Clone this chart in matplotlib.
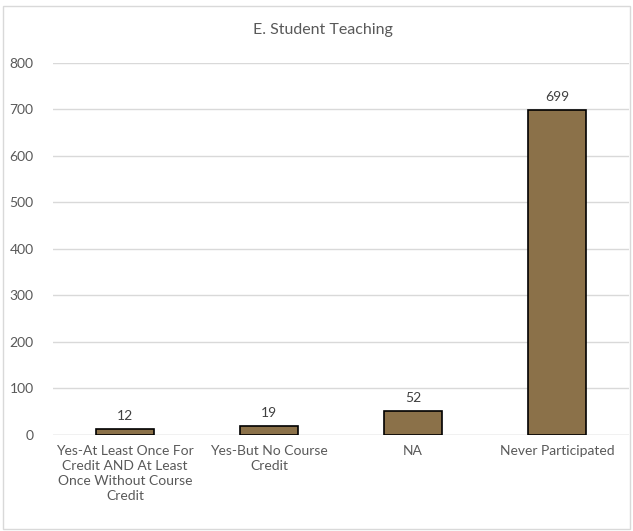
import matplotlib
matplotlib.use("Agg")
import matplotlib.pyplot as plt
from matplotlib.patches import Rectangle

# Dados
categorias = [
    "Yes-At Least Once For\nCredit AND At Least\nOnce Without Course\nCredit",
    "Yes-But No Course\nCredit",
    "NA",
    "Never Participated",
]
valores = [12, 19, 52, 699]
titulo = "E. Student Teaching"
yticks = [0, 100, 200, 300, 400, 500, 600, 700, 800]

plt.rcParams['font.family'] = ['Lato', 'DejaVu Sans']
cinza = '#595959'

fig = plt.figure(figsize=(6.33, 5.31), dpi=100)
ax = fig.add_axes([0.0837, 0.1808, 0.91, 0.7006])

x = range(len(categorias))
ax.bar(x, valores, width=0.40, color='#8B7149', edgecolor='black', linewidth=1.2, zorder=3)

for xi, v in zip(x, valores):
    ax.annotate(str(v), (xi, v), xytext=(0, 5), textcoords='offset points',
                ha='center', va='bottom', fontsize=10, color='#404040')

ax.set_xlim(-0.5, len(categorias) - 0.5)
ax.set_ylim(0, 800)
ax.set_yticks(yticks)
ax.set_xticks(list(x))
ax.set_xticklabels(categorias, fontsize=10, color=cinza, linespacing=1.3)
ax.tick_params(axis='y', labelsize=10, labelcolor=cinza, length=0, pad=14)
ax.tick_params(axis='x', length=0, pad=7)
ax.grid(axis='y', color='#D9D9D9', linewidth=1, zorder=0)
for s in ax.spines.values():
    s.set_visible(False)
ax.axhline(0, color='#D9D9D9', linewidth=1, zorder=2)

fig.text(0.51, 0.943, titulo, ha='center', va='center', fontsize=11.5, color=cinza)

# borda do gráfico
fig.patches.append(Rectangle((0.004, 0.004), 0.992, 0.984, transform=fig.transFigure,
                             fill=False, edgecolor='#D9D9D9', linewidth=1))

fig.savefig("out.png", dpi=100)
